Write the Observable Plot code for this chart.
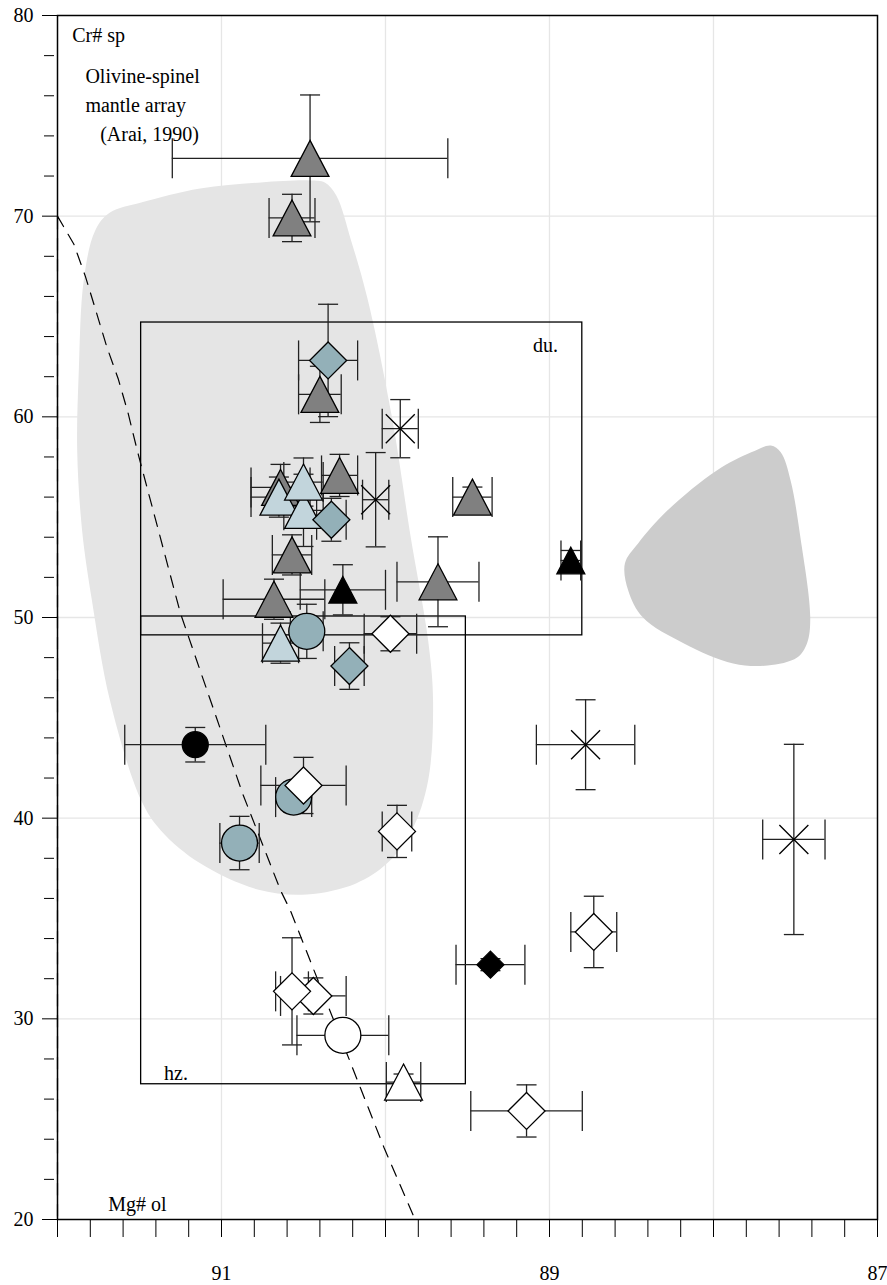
<!DOCTYPE html>
<html><head><meta charset="utf-8">
<script src="https://cdn.jsdelivr.net/npm/d3@7"></script>
<script src="https://cdn.jsdelivr.net/npm/@observablehq/plot@0.6"></script>
<style>body{margin:0;background:#fff}svg{display:block}</style>
</head><body><div id="chart"></div>
<script>
// ---- data: [Mg# ol, Cr# sp, err Mg#, err Cr#] ----
const darkTriangles = [
  [90.46, 72.88, 0.84, 3.16],
  [90.57, 69.91, 0.14, 1.18],
  [90.40, 61.12, 0.13, 1.40],
  [90.28, 57.08, 0.11, 1.05],
  [90.64, 56.48, 0.18, 1.15],
  [89.47, 56.00, 0.12, 0.50],
  [90.57, 53.12, 0.12, 1.00],
  [89.68, 51.78, 0.25, 2.24],
  [90.68, 50.91, 0.31, 1.00]
];
const lightTriangles = [
  [90.65, 56.00, 0.17, 1.00],
  [90.50, 55.34, 0.12, 1.80],
  [90.50, 56.75, 0.12, 1.20],
  [90.64, 48.72, 0.11, 1.00]
];
const blueDiamonds = [
  [90.35, 62.81, 0.18, 2.80],
  [90.33, 54.87, 0.09, 1.07],
  [90.22, 47.58, 0.09, 1.16]
];
const blueCircles = [
  [90.48, 49.31, 0.10, 1.35],
  [90.56, 41.05, 0.11, 0.75],
  [90.89, 38.76, 0.12, 1.33]
];
const whiteDiamonds = [
  [89.97, 49.19, 0.16, 0.85],
  [90.50, 41.63, 0.26, 1.40],
  [89.93, 39.34, 0.09, 1.30],
  [90.44, 31.14, 0.20, 0.90],
  [90.57, 31.37, 0.10, 2.67],
  [88.73, 34.33, 0.14, 1.78],
  [89.14, 25.41, 0.34, 1.30]
];
const whiteCircles = [[90.26, 29.18, 0.28, 0.30]];
const whiteTriangles = [[89.89, 26.85, 0.105, 0.40]];
const blackCircles = [[91.16, 43.66, 0.43, 0.86]];
const blackTriangles = [
  [90.26, 51.38, 0.26, 1.25],
  [88.87, 52.84, 0.06, 0.50]
];
const blackDiamonds = [[89.36, 32.70, 0.21, 0.30]];
const crosses = [
  [89.91, 59.41, 0.11, 1.45],
  [90.06, 55.87, 0.08, 2.35],
  [88.78, 43.66, 0.30, 2.24],
  [87.51, 38.94, 0.19, 4.74]
];

// fields (outlines in data units)
const mantleArray = [
  [91.68,70.18],[91.49,70.68],[91.13,71.38],[90.76,71.68],[90.46,71.78],[90.37,71.68],
  [90.30,71.03],[90.21,68.79],[90.11,65.90],[89.96,59.97],[89.85,54.19],[89.74,48.86],
  [89.71,45.87],[89.74,41.88],[89.84,39.39],[89.99,37.75],[90.18,36.75],[90.48,36.20],
  [90.78,36.45],[91.13,37.75],[91.37,39.39],[91.49,40.89],[91.68,45.87],[91.79,50.85],
  [91.85,54.34],[91.88,58.33],[91.87,62.31],[91.84,66.80],[91.77,69.29]
];
const rightField = [
  [87.65,58.57],[87.59,58.23],[87.53,56.83],[87.47,53.99],[87.41,50.00],[87.43,48.71],
  [87.49,48.01],[87.67,47.61],[87.88,47.71],[88.18,48.71],[88.43,50.00],[88.52,51.35],
  [88.54,52.70],[88.46,53.69],[88.28,55.34],[87.98,57.33],[87.77,58.23]
];
const dashedField = [
  [92.00,70.0],[91.90,68.6],[91.83,67.0],[91.77,65.4],[91.70,63.5],[91.63,61.9],
  [91.57,60.2],[91.51,58.2],[91.25,50.2],[90.87,41.2],[90.64,36.4],[90.58,35.4],
  [90.01,23.6],[89.82,20.0],[92.00,20.0],[92.00,70.0]
];
const boxes = [
  {name: "du.", x1: 91.49, x2: 88.80, y1: 49.11, y2: 64.70},
  {name: "hz.", x1: 91.49, x2: 89.51, y1: 26.74, y2: 50.05}
];
const notes = [
  {t: "Cr# sp", x: 91.91, y: 78.70},
  {t: "Olivine-spinel", x: 91.83, y: 76.66},
  {t: "mantle array", x: 91.83, y: 75.19},
  {t: "(Arai, 1990)", x: 91.74, y: 73.77},
  {t: "du.", x: 89.10, y: 63.21},
  {t: "hz.", x: 91.35, y: 26.94},
  {t: "Mg# ol", x: 91.69, y: 20.41}
];
const xLabels = [91, 89, 87];
const xGrid = [91, 90, 89, 88];
const yLabels = [20, 30, 40, 50, 60, 70, 80];
const yGrid = [30, 40, 50, 60, 70];
const xMinor = d3.range(0, 26).map(i => +(87 + i * 0.2).toFixed(1));
const yMinor = d3.range(22, 80, 2).filter(v => v % 10 !== 0);

// ---- symbols ----
const rad = s => Math.sqrt(s / Math.PI);
const triSym = {draw(c, s) { const r = rad(s), w = r * 1.05; c.moveTo(0, -r); c.lineTo(w, r); c.lineTo(-w, r); c.closePath(); }};
const diaSym = {draw(c, s) { const r = rad(s); c.moveTo(0, -r); c.lineTo(r, 0); c.lineTo(0, r); c.lineTo(-r, 0); c.closePath(); }};
const xSym = {draw(c, s) { const r = rad(s); c.moveTo(-r, -r); c.lineTo(r, r); c.moveTo(-r, r); c.lineTo(r, -r); }};
const vCap = {draw(c, s) { const r = rad(s); c.moveTo(0, -r); c.lineTo(0, r); }};
const hCap = {draw(c, s) { const r = rad(s); c.moveTo(-r, 0); c.lineTo(r, 0); }};

const rows = a => a.map(([x, y, xe, ye]) => ({x, y, xe, ye}));
const groups = [
  {d: darkTriangles, symbol: triSym, r: 18, fill: "#808080"},
  {d: lightTriangles, symbol: triSym, r: 18, fill: "#c2d5dc"},
  {d: blueDiamonds, symbol: diaSym, r: 18.5, fill: "#93b0b8"},
  {d: blueCircles, symbol: "circle", r: 18, fill: "#93b0b8"},
  {d: whiteDiamonds, symbol: diaSym, r: 18.5, fill: "white"},
  {d: whiteCircles, symbol: "circle", r: 18, fill: "white"},
  {d: whiteTriangles, symbol: triSym, r: 18, fill: "white"},
  {d: blackCircles, symbol: "circle", r: 13, fill: "black"},
  {d: blackTriangles, symbol: triSym, r: 13.3, fill: "black"},
  {d: blackDiamonds, symbol: diaSym, r: 13.5, fill: "black"},
  {d: crosses, symbol: xSym, r: 14.5, fill: "none"}
];
const all = groups.flatMap(g => rows(g.d));
const ec = "#222", ew = 1.3;
const serif = "'Liberation Serif', 'Times New Roman', serif";

const marks = [
  Plot.gridX(xGrid, {stroke: "#e6e6e6", strokeOpacity: 1, strokeWidth: 1.3}),
  Plot.gridY(yGrid, {stroke: "#e6e6e6", strokeOpacity: 1, strokeWidth: 1.3}),
  Plot.line(mantleArray, {x: d => d[0], y: d => d[1], curve: "catmull-rom-closed", fill: "#e5e5e5", stroke: "none"}),
  Plot.line(rightField, {x: d => d[0], y: d => d[1], curve: "catmull-rom-closed", fill: "#cccccc", stroke: "none"}),
  Plot.line(dashedField, {x: d => d[0], y: d => d[1], stroke: "black", strokeWidth: 1.2, strokeDasharray: "12,9"}),
  Plot.rect(boxes, {x1: "x1", x2: "x2", y1: "y1", y2: "y2", fill: "none", stroke: "black", strokeWidth: 1.3}),
  Plot.ruleY(all, {y: "y", x1: d => d.x - d.xe, x2: d => d.x + d.xe, stroke: ec, strokeWidth: ew}),
  Plot.ruleX(all, {x: "x", y1: d => d.y - d.ye, y2: d => d.y + d.ye, stroke: ec, strokeWidth: ew}),
  Plot.dot(all, {x: d => d.x - d.xe, y: "y", symbol: vCap, r: 20, stroke: ec, strokeWidth: ew, fill: "none"}),
  Plot.dot(all, {x: d => d.x + d.xe, y: "y", symbol: vCap, r: 20, stroke: ec, strokeWidth: ew, fill: "none"}),
  Plot.dot(all, {x: "x", y: d => d.y - d.ye, symbol: hCap, r: 10, stroke: ec, strokeWidth: ew, fill: "none"}),
  Plot.dot(all, {x: "x", y: d => d.y + d.ye, symbol: hCap, r: 10, stroke: ec, strokeWidth: ew, fill: "none"}),
  ...groups.map(g => Plot.dot(rows(g.d), {x: "x", y: "y", symbol: g.symbol, r: g.r, fill: g.fill, stroke: "black", strokeWidth: 1.3})),
  Plot.text(notes, {x: "x", y: "y", text: "t", textAnchor: "start", lineAnchor: "bottom", fill: "black", fontSize: 20, fontFamily: serif}),
  Plot.frame({stroke: "black", strokeWidth: 1.5}),
  Plot.axisY(yLabels, {tickSize: 15, tickPadding: 9, tickFormat: d => String(d), label: null, fontSize: 20, fontFamily: serif}),
  Plot.axisY(yMinor, {tickSize: 10, dx: -3, tickFormat: () => "", label: null}),
  Plot.axisX(xMinor, {tickSize: 18, tickFormat: () => "", label: null}),
  Plot.axisX(xLabels, {tickSize: 0, tickPadding: 46, tickFormat: d => String(d), label: null, fontSize: 20, fontFamily: serif})
];

const chart = Plot.plot({
  width: 887, height: 1285,
  marginLeft: 57, marginRight: 10, marginTop: 15, marginBottom: 66,
  x: {type: "linear", domain: [92, 87], label: null},
  y: {type: "linear", domain: [20, 80], label: null},
  style: {fontFamily: serif, fontSize: "20px", background: "white", color: "black"},
  marks
});
document.getElementById("chart").appendChild(chart);
</script></body></html>
